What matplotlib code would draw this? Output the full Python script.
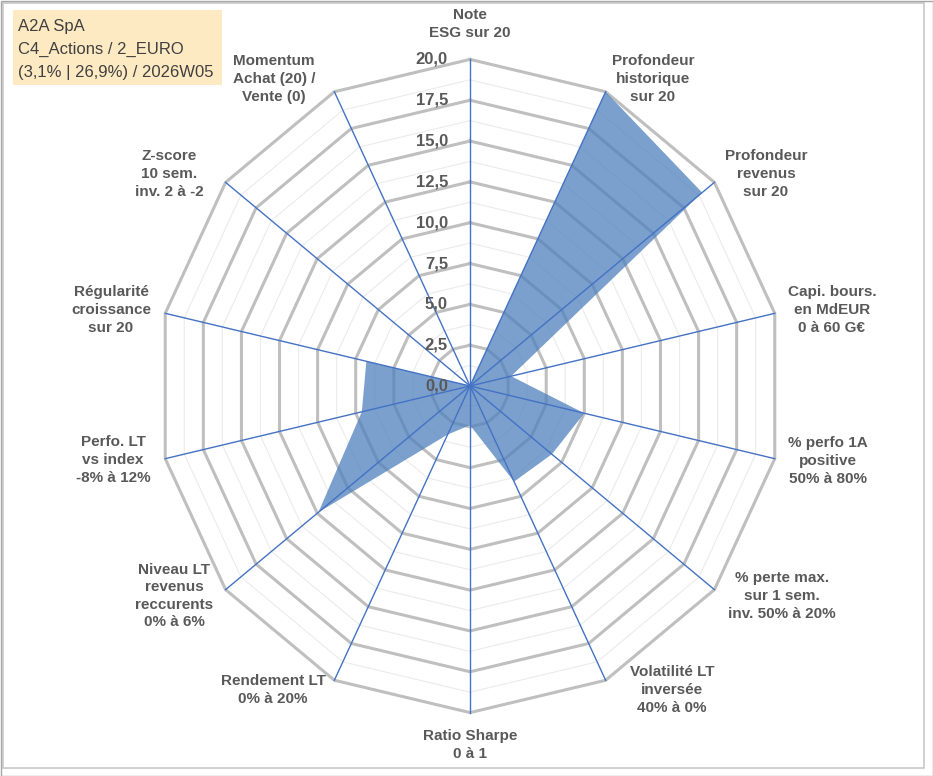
import matplotlib.pyplot as plt
import numpy as np
from matplotlib.patches import Rectangle

# Données du radar (sens horaire, en partant du haut)
categories = [
    "Note\nESG sur 20",
    "Profondeur\nhistorique\nsur 20",
    "Profondeur\nrevenus\nsur 20",
    "Capi. bours.\nen MdEUR\n0 à 60 G€",
    "% perfo 1A\npositive\n50% à 80%",
    "% perte max.\nsur 1 sem.\ninv. 50% à 20%",
    "Volatilité LT\ninversée\n40% à 0%",
    "Ratio Sharpe\n0 à 1",
    "Rendement LT\n0% à 20%",
    "Niveau LT\nrevenus\nreccurents\n0% à 6%",
    "Perfo. LT\nvs index\n-8% à 12%",
    "Régularité\ncroissance\nsur 20",
    "Z-score\n10 sem.\ninv. 2 à -2",
    "Momentum\nAchat (20) /\nVente (0)",
]
values = [0, 20, 19, 2.7, 7.5, 6.7, 6.5, 2.4, 3.3, 12.4, 7.1, 6.8, 0, 0]
ticks = [0, 2.5, 5, 7.5, 10, 12.5, 15, 17.5, 20]
tick_labels = ["0,0", "2,5", "5,0", "7,5", "10,0", "12,5", "15,0", "17,5", "20,0"]
title_lines = ["A2A SpA", "C4_Actions / 2_EURO", "(3,1% | 26,9%) / 2026W05"]

# Mise en page (pixels)
W, H = 933, 776
cx, cy = 470, 390          # centre, y depuis le bas
sx, sy = 15.63, 16.33      # px par unité (image légèrement écrasée en x)
label_pos = [(470, 24), (653, 79), (766, 174), (832, 310), (828, 461),
             (782, 596), (672, 690), (470, 745), (273, 690), (174, 596),
             (113, 460), (111, 310), (169, 174), (274, 79)]

txt_color = "#595959"
font = "Liberation Sans"

fig = plt.figure(figsize=(W / 100, H / 100), dpi=100)
ax = fig.add_axes([0, 0, 1, 1])
ax.set_xlim(-cx / sx, (W - cx) / sx)
ax.set_ylim(-cy / sy, (H - cy) / sy)
ax.axis("off")

n = len(categories)
theta = 2 * np.pi * np.arange(n) / n
ux, uy = np.sin(theta), np.cos(theta)

# grilles mineures et majeures (polygones)
for r in np.arange(1.25, 20.01, 1.25):
    major = abs(r / 2.5 - round(r / 2.5)) < 1e-6
    xs = np.append(r * ux, r * ux[0])
    ys = np.append(r * uy, r * uy[0])
    if major:
        ax.plot(xs, ys, color="#BFBFBF", lw=2.2, zorder=2, solid_joinstyle="miter")
    else:
        ax.plot(xs, ys, color="#EBEBEB", lw=0.8, zorder=1)

# série
v = np.array(values)
ax.fill(v * ux, v * uy, color="#4F81BD", alpha=0.75, lw=0, zorder=3)

# axes radiaux
for i in range(n):
    ax.plot([0, 20 * ux[i]], [0, 20 * uy[i]], color="#4472C4", lw=1.0, zorder=4)

# étiquettes de graduation
for t, lab in zip(ticks, tick_labels):
    ax.text(-22 / sx, t, lab, ha="right", va="center", fontsize=12,
            fontweight="bold", color=txt_color, family=font, zorder=5)

# étiquettes des catégories
for lab, (px, py) in zip(categories, label_pos):
    fig.text(px / W, 1 - py / H, lab, ha="center", va="center",
             multialignment="center", fontsize=11, fontweight="bold",
             color=txt_color, family=font, linespacing=1.33)

# cartouche titre
fig.patches.append(Rectangle((13 / W, 1 - 85 / H), 209 / W, 75 / H,
                             transform=fig.transFigure, facecolor="#FDE9C2",
                             edgecolor="none", zorder=0))
for k, line in enumerate(title_lines):
    fig.text(18 / W, 1 - (30.5 + 23.5 * k) / H, line, ha="left", va="baseline",
             fontsize=12, color="#404040", family=font)

# cadre
fig.patches.append(Rectangle((3 / W, 8 / H), 921 / W, 765 / H,
                             transform=fig.transFigure, facecolor="none",
                             edgecolor="#C8C8C8", lw=1.2))
fig.patches.append(Rectangle((0.5 / W, 0.5 / H), (W - 1) / W, (H - 1) / H,
                             transform=fig.transFigure, facecolor="none",
                             edgecolor="#A6A6A6", lw=1.0))

fig.savefig("out.png", dpi=100)
